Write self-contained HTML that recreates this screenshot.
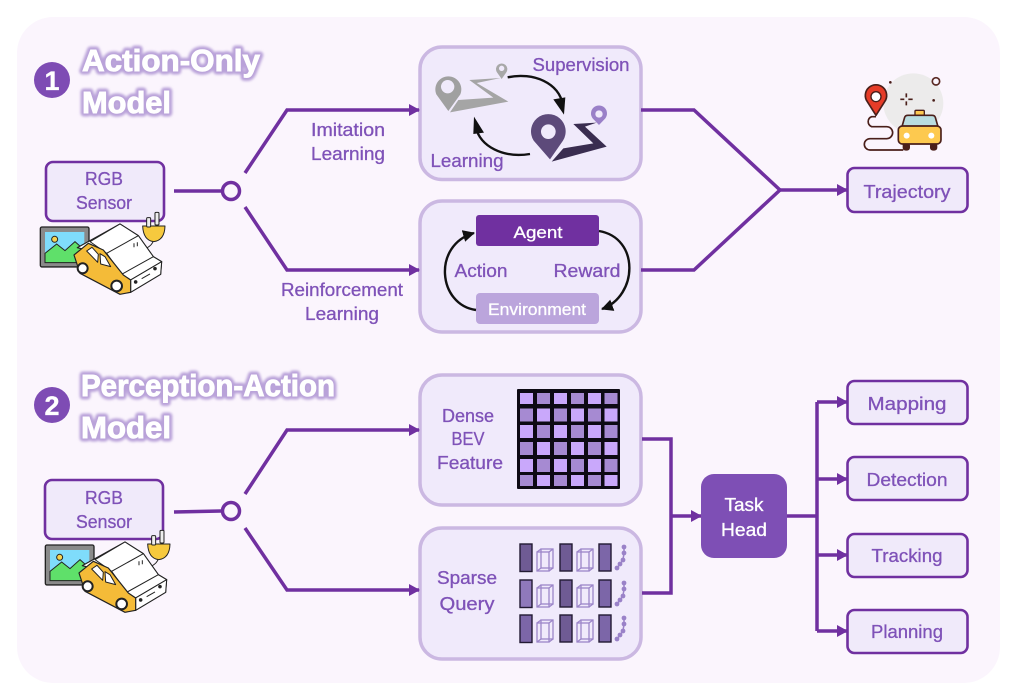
<!DOCTYPE html>
<html><head><meta charset="utf-8"><style>
html,body{margin:0;padding:0;background:#fff}
svg{display:block}
text{font-family:"Liberation Sans",sans-serif;fill:#7f52b8;stroke:#7f52b8;stroke-width:.3px;font-size:18px;text-anchor:middle}
.t{font-weight:bold;font-size:31px;text-anchor:start;fill:#fff;stroke:#fff;stroke-width:.9px}
.g{font-weight:bold;font-size:31px;text-anchor:start;fill:#b9a2d9;stroke:#b9a2d9;stroke-width:7px;stroke-linejoin:round}
.w{fill:#fff;stroke:#fff}
.l{fill:none;stroke:#7030a0;stroke-width:3.5}
.p{fill:#f0eafb;stroke:#cbb8e2;stroke-width:3.5}
.b{fill:#f0eafa;stroke:#7030a0;stroke-width:2.6}
.bl{fill:none;stroke:#111;stroke-width:2.4}
</style></head><body>
<svg width="1017" height="690" viewBox="0 0 1017 690" xmlns="http://www.w3.org/2000/svg">
<defs>
<filter id="bl" x="-10%" y="-30%" width="120%" height="160%"><feGaussianBlur stdDeviation="1.3"/></filter>
<marker id="ah" markerUnits="userSpaceOnUse" markerWidth="14" markerHeight="14" refX="10" refY="6" orient="auto"><path d="M0 0L11 6L0 12Z" fill="#7030a0"/></marker>
<marker id="bk" markerUnits="userSpaceOnUse" markerWidth="16" markerHeight="16" refX="11" refY="6" orient="auto"><path d="M0 0L12 6L0 12Z" fill="#111"/></marker>
<g id="car" transform="scale(.3333)">
 <rect x="121" y="621" width="146" height="120" rx="5" fill="#8a8a8a" stroke="#222" stroke-width="4"/>
 <rect x="135" y="636" width="118" height="92" fill="#7fdcfb"/>
 <path d="M135 728V700L170 672L195 692L225 665L253 690V728Z" fill="#5fe06a" stroke="#222" stroke-width="3"/>
 <circle cx="164" cy="658" r="9" fill="#f6d24f" stroke="#222" stroke-width="3"/>
 <g transform="translate(210 585)" stroke="#222" stroke-linejoin="round">
  <path d="M250 78Q246 90 232 98" fill="none" stroke-width="3"/>
  <path d="M218 33H285Q284 76 251 80Q220 76 218 33Z" fill="#f6c93e" stroke-width="3"/>
  <rect x="230" y="8" width="12" height="28" rx="3" fill="#eee" stroke-width="3"/>
  <rect x="255" y="-8" width="12" height="38" rx="3" fill="#eee" stroke-width="3"/>
  <path d="M22 98L150 27L205 62L250 125L275 140L272 178L182 232L110 120Z" fill="#fff" stroke-width="3.500"/>
  <path d="M60 80L150 27L205 62L110 115ZM110 115L205 62L250 125L155 178ZM155 178L250 125L275 140L182 195Z" fill="#fff" stroke-width="3"/>
  <path d="M182 195L275 140L272 178L182 232Z" fill="#fff" stroke-width="3"/>
  <path d="M12 120L55 85L100 105L160 180L182 195L182 232L150 238L30 175Z" fill="#f4bb38" stroke-width="3.500"/>
  <path d="M50 108L66 97L85 118L83 142ZM90 116L105 125L122 155L92 147Z" fill="#fff" stroke-width="3"/>
  <circle cx="38" cy="160" r="15" fill="#fff" stroke-width="6"/>
  <circle cx="140" cy="213" r="16" fill="#fff" stroke-width="6"/>
  <circle cx="197" cy="201" r="5" fill="#222"/><circle cx="255" cy="161" r="5" fill="#222"/>
  <path d="M215 191L240 177M192 85V97M202 82V94" fill="none" stroke-width="3"/>
 </g>
</g>
<g id="q">
 <rect x="520" y="544" width="12" height="27.500" stroke="#221a33" stroke-width="1.400"/>
 <g fill="none" stroke="#9c86c9" stroke-width="1.300"><rect x="537" y="552" width="12" height="19"/><rect x="541" y="549" width="12" height="19"/><path d="M537 552L541 549M549 552L553 549M537 571L541 568M549 571L553 568"/></g>
 <rect x="560" y="544" width="12" height="27" fill="#6f5b94" stroke="#221a33" stroke-width="1.400"/>
 <g fill="none" stroke="#9c86c9" stroke-width="1.300"><rect x="577" y="552" width="12" height="19"/><rect x="581" y="549" width="12" height="19"/><path d="M577 552L581 549M589 552L593 549M577 571L581 568M589 571L593 568"/></g>
 <rect x="599" y="544" width="12" height="27" fill="#7c66a8" stroke="#221a33" stroke-width="1.400"/>
 <path d="M624 547V553L623 560L617 568" fill="none" stroke="#9a82c8" stroke-width="1.500"/>
 <g fill="#9a82c8"><circle cx="624" cy="547" r="2.400"/><circle cx="624" cy="553" r="2.400"/><circle cx="623" cy="560" r="2.400"/><circle cx="620" cy="564" r="2.400"/><circle cx="617" cy="568" r="2.400"/></g>
</g>
</defs>

<rect width="1017" height="690" fill="#fff"/>
<rect x="17" y="17" width="983" height="666" rx="36" fill="#fbf5fd"/>

<!-- titles -->
<circle cx="52" cy="80" r="18" fill="#7e4cb4"/>
<circle cx="52" cy="405" r="18" fill="#7e4cb4"/>
<text class="w" x="52" y="90" style="font-weight:bold;font-size:27px">1</text>
<text class="w" x="52" y="415" style="font-weight:bold;font-size:27px">2</text>
<g filter="url(#bl)">
 <text class="g" x="82" y="71" textLength="178" lengthAdjust="spacingAndGlyphs">Action-Only</text>
 <text class="g" x="82" y="113" textLength="89" lengthAdjust="spacingAndGlyphs">Model</text>
 <text class="g" x="81" y="396" textLength="254" lengthAdjust="spacingAndGlyphs">Perception-Action</text>
 <text class="g" x="81" y="438" textLength="90" lengthAdjust="spacingAndGlyphs">Model</text>
</g>
<text class="t" x="82" y="71" textLength="178" lengthAdjust="spacingAndGlyphs">Action-Only</text>
<text class="t" x="82" y="113" textLength="89" lengthAdjust="spacingAndGlyphs">Model</text>
<text class="t" x="81" y="396" textLength="254" lengthAdjust="spacingAndGlyphs">Perception-Action</text>
<text class="t" x="81" y="438" textLength="90" lengthAdjust="spacingAndGlyphs">Model</text>

<!-- sensors -->
<rect class="b" x="46" y="162" width="118" height="59" rx="7"/>
<text x="104" y="185" textLength="38" lengthAdjust="spacingAndGlyphs">RGB</text>
<text x="104" y="209" textLength="56" lengthAdjust="spacingAndGlyphs">Sensor</text>
<use href="#car" x="0" y="20"/>
<rect class="b" x="45" y="480" width="118" height="59" rx="7"/>
<text x="104" y="504" textLength="38" lengthAdjust="spacingAndGlyphs">RGB</text>
<text x="104" y="528" textLength="56" lengthAdjust="spacingAndGlyphs">Sensor</text>
<use href="#car" x="5" y="338"/>

<text x="348" y="136" textLength="74" lengthAdjust="spacingAndGlyphs">Imitation</text>
<text x="348" y="160" textLength="74" lengthAdjust="spacingAndGlyphs">Learning</text>
<text x="342" y="296" textLength="122" lengthAdjust="spacingAndGlyphs">Reinforcement</text>
<text x="342" y="320" textLength="74" lengthAdjust="spacingAndGlyphs">Learning</text>

<!-- panels -->
<rect class="p" x="420" y="47" width="221" height="132.500" rx="22"/>
<rect class="p" x="420" y="201" width="221" height="131" rx="22"/>
<rect class="p" x="420" y="375" width="221" height="130" rx="22"/>
<rect class="p" x="420" y="528" width="221" height="131" rx="22"/>

<!-- connectors -->
<path class="l" d="M174 191H221"/>
<circle cx="231" cy="191" r="8.500" fill="none" stroke="#7030a0" stroke-width="3.500"/>
<path class="l" marker-end="url(#ah)" d="M245 173L287 110H419"/>
<path class="l" marker-end="url(#ah)" d="M245 207L287 270H419"/>
<path class="l" d="M641 110H694L780 190L694 270H641"/>
<path class="l" marker-end="url(#ah)" d="M780 190H847"/>
<path class="l" d="M174 512L221 511"/>
<circle cx="231" cy="511" r="8.500" fill="none" stroke="#7030a0" stroke-width="3.500"/>
<path class="l" marker-end="url(#ah)" d="M245 494L287 430H419"/>
<path class="l" marker-end="url(#ah)" d="M245 528L287 590H419"/>
<path class="l" d="M642 439H671V593H642"/>
<path class="l" marker-end="url(#ah)" d="M671 516H701"/>
<path class="l" d="M787 516H817M817 402V631"/>
<path class="l" marker-end="url(#ah)" d="M817 402H847"/>
<path class="l" marker-end="url(#ah)" d="M817 479H847"/>
<path class="l" marker-end="url(#ah)" d="M817 555H847"/>
<path class="l" marker-end="url(#ah)" d="M817 631H847"/>

<!-- panel 1 -->
<g transform="translate(430 55) scale(.3333)">
 <path d="M118 75L212 69L140 84L235 140L60 172L85 135L190 128Z" fill="#a5a5a5"/>
 <path d="M55 168L19 118A39 39 0 1 1 91 118Z" fill="#a0a0a0"/><circle cx="53" cy="95" r="20" fill="#f0eafb"/>
 <path d="M215 72L201 52A17 17 0 1 1 229 52Z" fill="#a8a8a8"/><circle cx="215" cy="40" r="8" fill="#f0eafb"/>
</g>
<g transform="translate(525 100) scale(.3333)">
 <path d="M145 72L215 68L180 80L245 140L80 185L115 145L205 130Z" fill="#3a2d50"/>
 <path d="M75 178L26 122A52 52 0 1 1 114 122Z" fill="#5d4a7a"/><circle cx="70" cy="95" r="22" fill="#f0eafb"/>
 <path d="M222 75L203 55A24 24 0 1 1 241 55Z" fill="#9a80c8"/><circle cx="222" cy="42" r="11" fill="#f0eafb"/>
</g>
<g transform="translate(410 40) scale(.3333)">
 <path d="M293 112C370 95 450 130 458 195" fill="none" stroke="#111" stroke-width="7"/>
 <path d="M462 224L430 178L466 172Z" fill="#111"/>
 <path d="M360 342C280 355 210 320 197 260" fill="none" stroke="#111" stroke-width="7"/>
 <path d="M192 230L222 278L190 282Z" fill="#111"/>
</g>
<text x="581" y="71" textLength="97" lengthAdjust="spacingAndGlyphs">Supervision</text>
<text x="467" y="167" textLength="73" lengthAdjust="spacingAndGlyphs">Learning</text>

<!-- panel 2 -->
<rect x="476" y="215" width="123" height="31" rx="3" fill="#7030a0"/>
<rect x="476" y="293" width="123" height="31" rx="4" fill="#bba5dc"/>
<text class="w" x="538" y="238" textLength="49" lengthAdjust="spacingAndGlyphs" style="font-size:17px">Agent</text>
<text class="w" x="537" y="315" textLength="98" lengthAdjust="spacingAndGlyphs" style="font-size:17px">Environment</text>
<text x="481" y="277" textLength="53" lengthAdjust="spacingAndGlyphs">Action</text>
<text x="587" y="277" textLength="67" lengthAdjust="spacingAndGlyphs">Reward</text>
<path class="bl" marker-end="url(#bk)" d="M599 231C640 238 638 296 602 309"/>
<path class="bl" marker-end="url(#bk)" d="M476 310C438 305 432 245 474 233"/>

<!-- panel 3 -->
<text x="468" y="422" textLength="52" lengthAdjust="spacingAndGlyphs">Dense</text>
<text x="468" y="445" textLength="33" lengthAdjust="spacingAndGlyphs">BEV</text>
<text x="470" y="469" textLength="66" lengthAdjust="spacingAndGlyphs">Feature</text>
<rect x="517" y="389" width="103" height="100" rx="1" fill="#0d0a14"/>
<g fill="#c9a8fb">
<rect x="520" y="393" width="13" height="11"/><rect x="537" y="393" width="13" height="11" fill="#a68ad2"/><rect x="554" y="393" width="13" height="11"/><rect x="571" y="393" width="13" height="11" fill="#a68ad2"/><rect x="588" y="393" width="13" height="11"/><rect x="604.500" y="393" width="13" height="11" fill="#a68ad2"/>
<rect x="520" y="408.500" width="13" height="13" fill="#a68ad2"/><rect x="537" y="408.500" width="13" height="13"/><rect x="554" y="408.500" width="13" height="13" fill="#a68ad2"/><rect x="571" y="408.500" width="13" height="13"/><rect x="588" y="408.500" width="13" height="13" fill="#a68ad2"/><rect x="604.500" y="408.500" width="13" height="13"/>
<rect x="520" y="425" width="13" height="13"/><rect x="537" y="425" width="13" height="13" fill="#a68ad2"/><rect x="554" y="425" width="13" height="13"/><rect x="571" y="425" width="13" height="13" fill="#a68ad2"/><rect x="588" y="425" width="13" height="13"/><rect x="604.500" y="425" width="13" height="13" fill="#a68ad2"/>
<rect x="520" y="442" width="13" height="13" fill="#a68ad2"/><rect x="537" y="442" width="13" height="13"/><rect x="554" y="442" width="13" height="13" fill="#a68ad2"/><rect x="571" y="442" width="13" height="13"/><rect x="588" y="442" width="13" height="13" fill="#a68ad2"/><rect x="604.500" y="442" width="13" height="13"/>
<rect x="520" y="459" width="13" height="13"/><rect x="537" y="459" width="13" height="13" fill="#a68ad2"/><rect x="554" y="459" width="13" height="13"/><rect x="571" y="459" width="13" height="13" fill="#a68ad2"/><rect x="588" y="459" width="13" height="13"/><rect x="604.500" y="459" width="13" height="13" fill="#a68ad2"/>
<rect x="520" y="475" width="13" height="11" fill="#a68ad2"/><rect x="537" y="475" width="13" height="11"/><rect x="554" y="475" width="13" height="11" fill="#a68ad2"/><rect x="571" y="475" width="13" height="11"/><rect x="588" y="475" width="13" height="11" fill="#a68ad2"/><rect x="604.500" y="475" width="13" height="11"/>
</g>

<!-- panel 4 -->
<text x="467" y="584" textLength="60" lengthAdjust="spacingAndGlyphs">Sparse</text>
<text x="467" y="610" textLength="55" lengthAdjust="spacingAndGlyphs">Query</text>
<use href="#q" fill="#6f5b94"/>
<use href="#q" y="36" fill="#8f79bb"/>
<use href="#q" y="71" fill="#7c66a8"/>

<!-- taxi -->
<g transform="translate(770 60) scale(.3333)">
 <circle cx="430" cy="130" r="90" fill="#ecebeb"/>
 <circle cx="498" cy="64" r="11" fill="#fbf5fd" stroke="#5a2a24" stroke-width="5"/>
 <circle cx="361" cy="67" r="4" fill="#4a1f1a"/><circle cx="491" cy="121" r="4" fill="#4a1f1a"/>
 <path d="M391 118H403M415 118H428M409 100V112M409 124V136" stroke="#4a1f1a" stroke-width="5"/>
 <path d="M318 170H305A16 16 0 0 0 305 200H350A17 17 0 0 1 350 236H300A17 17 0 0 0 300 270H400" fill="none" stroke="#4a1f1a" stroke-width="5"/>
 <path d="M318 166L292 125A32 32 0 1 1 344 125Z" fill="#e63c28" stroke="#4a1f1a" stroke-width="5" stroke-linejoin="round"/>
 <circle cx="318" cy="110" r="15" fill="#fff" stroke="#4a1f1a" stroke-width="4"/>
 <rect x="435" y="151" width="28" height="16" rx="3" fill="#fdc94f" stroke="#4a1f1a" stroke-width="4"/>
 <path d="M396 200L404 172Q406 166 414 166H486Q494 166 496 172L504 200Z" fill="#b9dde0" stroke="#4a1f1a" stroke-width="5"/>
 <rect x="398" y="248" width="22" height="24" rx="9" fill="#4a1f1a"/><rect x="480" y="248" width="22" height="24" rx="9" fill="#4a1f1a"/>
 <rect x="385" y="198" width="128" height="54" rx="12" fill="#fdc94f" stroke="#4a1f1a" stroke-width="5"/>
 <circle cx="410" cy="227" r="9" fill="#fff"/><circle cx="484" cy="227" r="9" fill="#fff"/>
</g>

<!-- outputs -->
<rect class="b" x="847.500" y="168" width="120" height="44" rx="7"/>
<text x="907" y="198" textLength="87" lengthAdjust="spacingAndGlyphs">Trajectory</text>
<rect class="b" x="847.500" y="381" width="120" height="43" rx="7"/>
<text x="907" y="410" textLength="79" lengthAdjust="spacingAndGlyphs">Mapping</text>
<rect class="b" x="847.500" y="457" width="120" height="43" rx="7"/>
<text x="907" y="486" textLength="81" lengthAdjust="spacingAndGlyphs">Detection</text>
<rect class="b" x="847.500" y="534" width="120" height="43" rx="7"/>
<text x="907" y="562" textLength="71" lengthAdjust="spacingAndGlyphs">Tracking</text>
<rect class="b" x="847.500" y="610" width="120" height="43" rx="7"/>
<text x="907" y="638" textLength="72" lengthAdjust="spacingAndGlyphs">Planning</text>

<!-- task head -->
<rect x="701" y="474" width="86" height="84" rx="13" fill="#7e4fb5"/>
<text class="w" x="744" y="511" textLength="39" lengthAdjust="spacingAndGlyphs">Task</text>
<text class="w" x="744" y="536" textLength="46" lengthAdjust="spacingAndGlyphs">Head</text>
</svg>
</body></html>
